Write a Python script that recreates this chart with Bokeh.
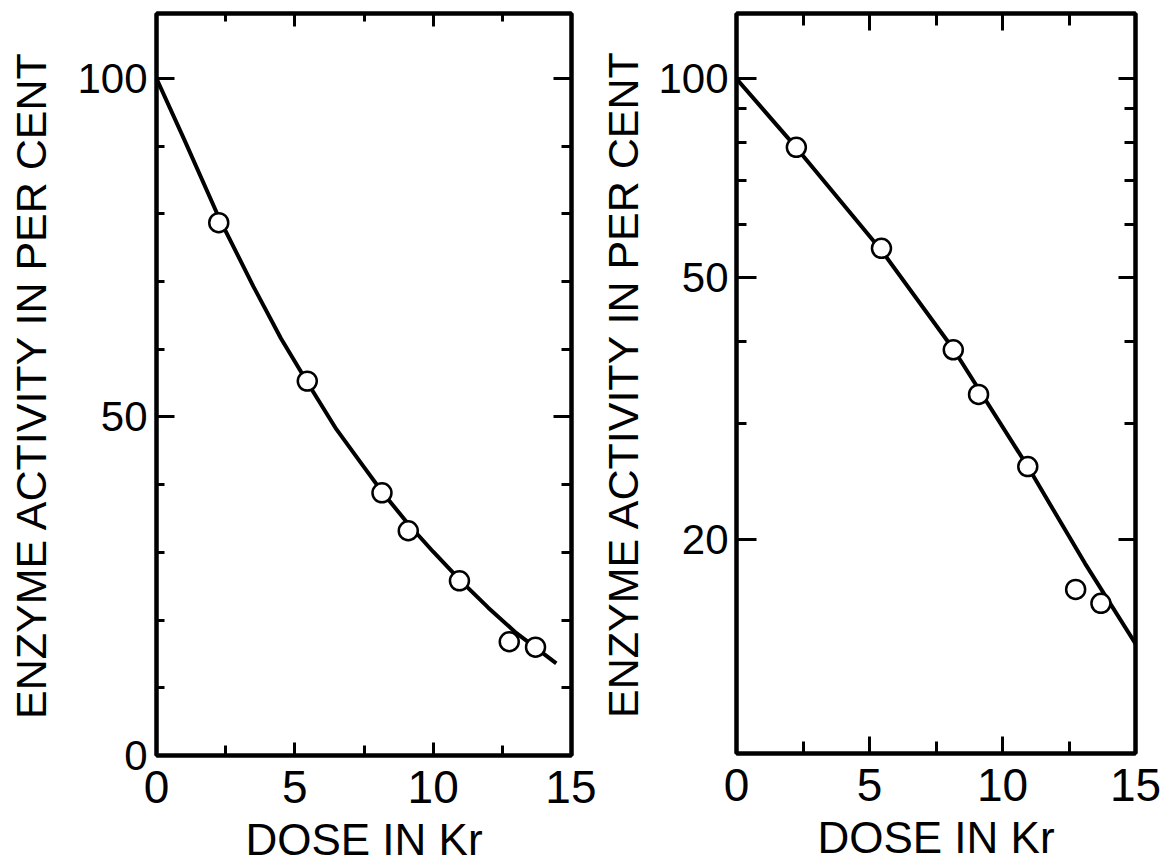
from bokeh.plotting import figure
from bokeh.models import Range1d, FixedTicker, LinearAxis, LogAxis
from bokeh.layouts import row
from bokeh.embed import file_html
from bokeh.resources import INLINE

# Measured enzyme activity after irradiation
dose = [2.25, 5.45, 8.15, 9.1, 10.95, 12.75, 13.7]
activity = [78.7, 55.3, 38.8, 33.2, 25.8, 16.8, 16.0]

# Smooth survival curve, linear panel
curve_dose_lin = [0, 1.0, 2.25, 3.5, 4.5, 5.5, 6.5, 7.5, 8.2, 9.1, 10.0, 11.0, 12.0, 13.0, 14.45]
curve_act_lin = [100, 91.0, 79.5, 69.3, 61.6, 54.8, 48.2, 42.6, 38.7, 34.2, 30.1, 25.8, 21.8, 18.1, 13.6]

# Survival line, semi-log panel
curve_dose_log = [0, 2.25, 5.45, 8.15, 10.95, 13.1, 15]
curve_act_log = [100, 78.6, 54.9, 38.9, 25.8, 18.4, 13.9]

x_ticks = [0, 5, 10, 15]
x_minor = [2.5, 7.5, 12.5]
lin_ticks = [0, 50, 100]
lin_minor = [10, 20, 30, 40, 60, 70, 80, 90]
log_ticks = [20, 50, 100]
log_minor = [30, 40, 60, 70, 80, 90]

FONT = "Liberation Sans"
INK = "black"
W = 4


def base_axis(ax, ticks, minor, tick_in, minor_in):
    ax.ticker = FixedTicker(ticks=ticks, minor_ticks=minor)
    ax.axis_line_width = W
    ax.axis_line_color = INK
    ax.major_tick_in = tick_in
    ax.major_tick_out = 0
    ax.minor_tick_in = minor_in
    ax.minor_tick_out = 0
    ax.major_tick_line_width = 3
    ax.minor_tick_line_width = 3
    ax.major_tick_line_color = INK
    ax.minor_tick_line_color = INK


def hide_labels(ax):
    ax.major_label_text_font_size = "0px"
    ax.major_label_text_color = None
    ax.major_label_standoff = 0


def style_x(ax):
    ax.axis_label = "DOSE IN Kr"
    ax.major_label_text_font = FONT
    ax.major_label_text_font_size = "46px"
    ax.major_label_text_color = INK
    ax.major_label_standoff = 15
    ax.axis_label_text_font = FONT
    ax.axis_label_text_font_size = "44px"
    ax.axis_label_text_font_style = "normal"
    ax.axis_label_text_color = INK
    ax.axis_label_standoff = 9


def style_y(ax, label_standoff, title_standoff):
    ax.axis_label = "ENZYME ACTIVITY IN PER CENT"
    ax.major_label_text_font = FONT
    ax.major_label_text_font_size = "42px"
    ax.major_label_text_color = INK
    ax.major_label_standoff = label_standoff
    ax.axis_label_text_font = FONT
    ax.axis_label_text_font_size = "43px"
    ax.axis_label_text_font_style = "normal"
    ax.axis_label_text_color = INK
    ax.axis_label_standoff = title_standoff


def make_panel(frame_w, frame_h, left, top, bottom, right, y_range, log=False):
    p = figure(
        frame_width=frame_w, frame_height=frame_h,
        x_range=Range1d(0, 15), y_range=y_range,
        y_axis_type="log" if log else "linear",
        output_backend="svg", toolbar_location=None,
        min_border_left=left, min_border_right=right,
        min_border_top=top, min_border_bottom=bottom,
    )
    p.grid.visible = False
    p.outline_line_color = INK
    p.outline_line_width = W
    p.background_fill_color = "white"
    p.border_fill_color = "white"
    return p


# ---- left panel: linear activity scale ----
p1 = make_panel(415, 742, 156, 12, 114, 25, Range1d(0, 109.6))
xb = p1.below[0]
base_axis(xb, x_ticks, x_minor, 13, 10)
style_x(xb)
yl = p1.left[0]
base_axis(yl, lin_ticks, lin_minor, 18, 8)
style_y(yl, 9, 19)

xt = LinearAxis()
base_axis(xt, [5, 10], x_minor, 13, 8)
hide_labels(xt)
p1.add_layout(xt, "above")
yr = LinearAxis()
base_axis(yr, lin_ticks, lin_minor, 18, 10)
hide_labels(yr)
p1.add_layout(yr, "right")

p1.line(curve_dose_lin, curve_act_lin, line_width=W, line_color=INK, line_join="round")
p1.scatter(dose, activity, marker="circle", size=19, fill_color="white",
           line_color=INK, line_width=2.5)

# ---- right panel: logarithmic activity scale ----
p2 = make_panel(399, 740, 137, 13, 115, 29, Range1d(9.47, 125.6), log=True)
xb2 = p2.below[0]
base_axis(xb2, x_ticks, x_minor, 17, 12)
style_x(xb2)
yl2 = p2.left[0]
base_axis(yl2, log_ticks, log_minor, 20, 10)
yl2.major_label_overrides = {t: str(t) for t in log_ticks}
style_y(yl2, 8, 8)

xt2 = LinearAxis()
base_axis(xt2, [5, 10], x_minor, 17, 12)
hide_labels(xt2)
p2.add_layout(xt2, "above")
yr2 = LogAxis()
base_axis(yr2, log_ticks, log_minor, 17, 11)
hide_labels(yr2)
p2.add_layout(yr2, "right")

p2.line(curve_dose_log, curve_act_log, line_width=W, line_color=INK, line_join="round")
p2.scatter(dose, activity, marker="circle", size=19, fill_color="white",
           line_color=INK, line_width=2.5)

layout = row(p1, p2, spacing=0)
open("out.html", "w").write(file_html(layout, INLINE))
